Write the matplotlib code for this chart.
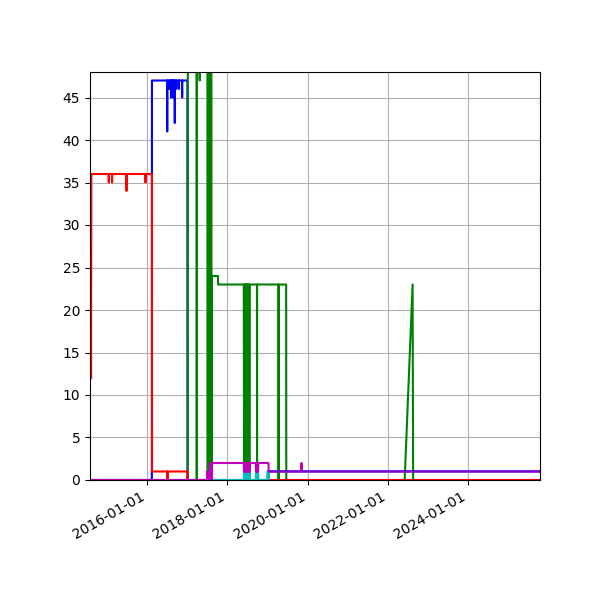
import numpy as np
import pandas as pd
import matplotlib
matplotlib.use("Agg")
import matplotlib.pyplot as plt
import matplotlib.dates as mdates
from matplotlib.ticker import MultipleLocator

# series, plotted as plain lines
red_dates = ['2014-08-09', '2014-08-11',
             '2015-01-16', '2015-01-17', '2015-01-18',
             '2015-02-15', '2015-02-16', '2015-02-17',
             '2015-06-26', '2015-06-27', '2015-06-28',
             '2015-12-16', '2015-12-17', '2015-12-18',
             '2016-02-14', '2016-02-15',
             '2016-07-03', '2016-07-04', '2016-07-05',
             '2017-01-02', '2017-01-03', '2025-10-17']
red_vals = [12, 36,
            36, 35, 36,
            36, 35, 36,
            36, 34, 36,
            36, 35, 36,
            36, 1,
            1, 0, 1,
            1, 0, 0]

blue_dates = ['2014-07-30', '2016-02-13', '2016-02-14',
              '2016-07-01', '2016-07-02', '2016-07-03',
              '2016-07-20', '2016-07-21', '2016-07-22',
              '2016-08-05', '2016-08-06', '2016-08-07',
              '2016-08-14', '2016-08-15', '2016-08-16',
              '2016-08-24', '2016-08-25', '2016-08-26',
              '2016-09-08', '2016-09-09', '2016-09-10',
              '2016-09-21', '2016-09-22', '2016-09-23',
              '2016-10-15', '2016-10-16', '2016-10-17',
              '2016-11-14', '2016-11-15', '2016-11-16',
              '2017-01-02', '2017-01-03', '2019-01-10', '2019-01-11', '2025-10-17']
blue_vals = [0, 0, 47,
             47, 41, 47,
             47, 46, 47,
             47, 45, 47,
             47, 46, 47,
             47, 45, 47,
             47, 42, 47,
             47, 46, 47,
             47, 46, 47,
             47, 45, 47,
             47, 0, 0, 1, 1]

green_dates = ['2014-07-30', '2017-01-05', '2017-01-06',
               '2017-03-27', '2017-03-28', '2017-03-29',
               '2017-04-23', '2017-04-24', '2017-04-25',
               '2017-07-05', '2017-07-06', '2017-07-07',
               '2017-07-21', '2017-07-22', '2017-07-23',
               '2017-08-08', '2017-08-09', '2017-08-12',
               '2017-10-07', '2017-10-08',
               '2018-05-30', '2018-06-02', '2018-06-05', '2018-06-08', '2018-06-11',
               '2018-06-14', '2018-06-17', '2018-06-20', '2018-06-23', '2018-06-26',
               '2018-06-29', '2018-07-02', '2018-07-05', '2018-07-08', '2018-07-11',
               '2018-07-14', '2018-07-17', '2018-07-20', '2018-07-23', '2018-07-25',
               '2018-09-27', '2018-09-28', '2018-09-29',
               '2019-04-11', '2019-04-12', '2019-04-13',
               '2019-06-20', '2019-06-21',
               '2022-06-03', '2022-08-14', '2022-08-19', '2025-10-17']
green_vals = [0, 0, 60,
              60, 0, 60,
              60, 47, 60,
              60, 0, 60,
              60, 0, 60,
              60, 0, 24,
              24, 23,
              23, 0, 23, 0, 23,
              0, 23, 0, 23, 0,
              23, 0, 23, 0, 23,
              0, 23, 0, 23, 23,
              23, 0, 23,
              23, 0, 23,
              23, 0,
              0, 23, 0, 0]

cyan_dates = ['2017-08-21',
              '2018-05-30', '2018-06-02', '2018-06-05', '2018-06-08', '2018-06-11',
              '2018-06-14', '2018-06-17', '2018-06-20', '2018-06-23', '2018-06-26',
              '2018-06-29', '2018-07-02', '2018-07-05', '2018-07-08', '2018-07-11',
              '2018-07-14', '2018-07-17', '2018-07-20', '2018-07-23', '2018-07-25',
              '2018-09-16', '2018-09-19', '2018-09-22', '2018-09-25', '2018-09-28',
              '2018-10-01', '2018-10-04', '2018-10-07', '2018-10-10', '2018-10-14',
              '2018-12-29', '2018-12-31', '2019-01-10', '2019-01-12']
cyan_vals = [0,
             0, 1, 0, 1, 0,
             1, 0, 1, 0, 1,
             0, 1, 0, 1, 0,
             1, 0, 1, 0, 0,
             0, 1, 0, 1, 0,
             1, 0, 1, 0, 0,
             0, 1, 1, 0]

magenta_dates = ['2014-07-30', '2017-06-28',
                 '2017-07-01', '2017-07-04', '2017-07-07', '2017-07-10', '2017-07-13',
                 '2017-07-16', '2017-07-19', '2017-07-22', '2017-07-25', '2017-07-28',
                 '2017-07-31', '2017-08-03', '2017-08-06', '2017-08-09', '2017-08-12',
                 '2017-08-14',
                 '2018-05-30', '2018-06-02', '2018-06-05', '2018-06-08', '2018-06-11',
                 '2018-06-14', '2018-06-17', '2018-06-20', '2018-06-23', '2018-06-26',
                 '2018-06-29', '2018-07-02', '2018-07-05', '2018-07-08', '2018-07-11',
                 '2018-07-14', '2018-07-17', '2018-07-20', '2018-07-23', '2018-07-25',
                 '2018-09-16', '2018-09-19', '2018-09-22', '2018-09-25', '2018-09-28',
                 '2018-10-01', '2018-10-04', '2018-10-07', '2018-10-10', '2018-10-14',
                 '2019-01-10', '2019-01-11',
                 '2019-11-05', '2019-11-06', '2019-11-07', '2025-10-17']
magenta_vals = [0, 0,
                1, 0, 1, 0, 1,
                0, 1, 0, 1, 0,
                2, 0, 2, 0, 2,
                2,
                2, 1, 2, 1, 2,
                1, 2, 1, 2, 1,
                2, 1, 2, 1, 2,
                1, 2, 1, 2, 2,
                2, 1, 2, 1, 2,
                1, 2, 1, 2, 2,
                2, 1,
                1, 2, 1, 1]

x_start, x_end = '2014-07-30', '2025-10-17'

fig, ax = plt.subplots(figsize=(6, 6), dpi=100)

ax.plot(pd.to_datetime(blue_dates), blue_vals, 'b')
ax.plot(pd.to_datetime(green_dates), green_vals, 'g')
ax.plot(pd.to_datetime(red_dates), red_vals, 'r')
ax.plot(pd.to_datetime(cyan_dates), cyan_vals, 'c')
ax.plot(pd.to_datetime(magenta_dates), magenta_vals, 'm')
# blue tail sits on top of the magenta line at 1, giving the violet look
tail = pd.to_datetime(blue_dates) >= pd.Timestamp('2019-01-11')
ax.plot(pd.to_datetime(blue_dates)[tail], np.array(blue_vals)[tail], 'b', alpha=0.3)

ax.set_xlim(pd.Timestamp(x_start), pd.Timestamp(x_end))
ax.set_ylim(0, 48)
ax.yaxis.set_major_locator(MultipleLocator(5))
ax.xaxis.set_major_locator(mdates.YearLocator(2))
ax.xaxis.set_major_formatter(mdates.DateFormatter('%Y-%m-%d'))
ax.grid(True)

fig.autofmt_xdate()
fig.subplots_adjust(left=0.15, right=0.9, top=0.88, bottom=0.2)
fig.savefig('out.png')
